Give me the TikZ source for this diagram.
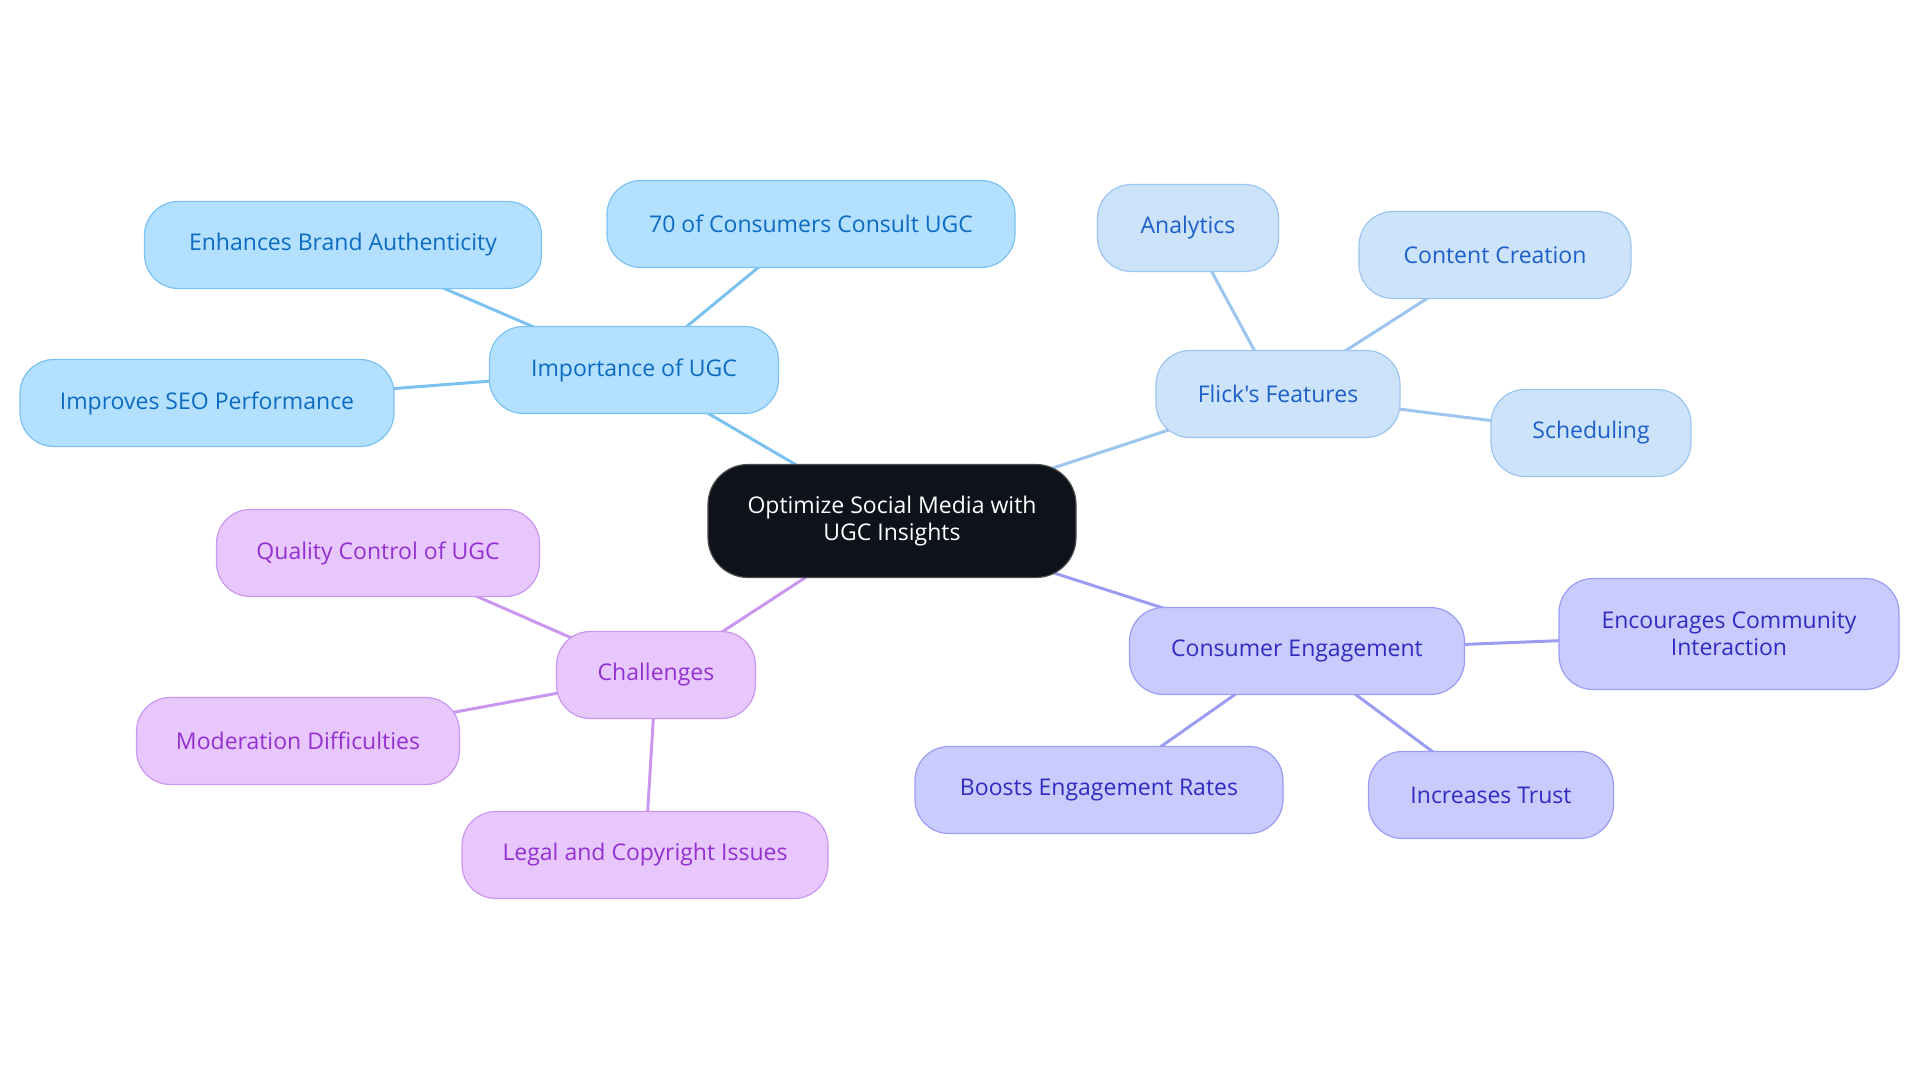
\documentclass[tikz,border=0pt]{standalone}
\usepackage{fontspec}
\setmainfont{Open Sans}[Ligatures=TeXOff]
\usetikzlibrary{backgrounds}

\definecolor{rootfill}{HTML}{0D121B}
\definecolor{impfill}{HTML}{B3E0FF}
\definecolor{impdraw}{HTML}{7CC2F0}
\definecolor{imptext}{HTML}{0B6BC0}
\definecolor{featfill}{HTML}{CCE3FA}
\definecolor{featdraw}{HTML}{9CC5EF}
\definecolor{feattext}{HTML}{1D5FC9}
\definecolor{engfill}{HTML}{C8CBFC}
\definecolor{engdraw}{HTML}{9B9DF3}
\definecolor{engtext}{HTML}{2F2CBF}
\definecolor{chalfill}{HTML}{E8C8FC}
\definecolor{chaldraw}{HTML}{C996F0}
\definecolor{chaltext}{HTML}{9330D0}

\begin{document}
\begin{tikzpicture}[x=1pt, y=-1pt, every node/.style={draw, align=center, rounded corners=34pt, minimum height=87pt, line width=1.2pt, font=\fontsize{23}{27}\selectfont},
    imp/.style={fill=impfill, draw=impdraw, text=imptext},
    feat/.style={fill=featfill, draw=featdraw, text=feattext},
    eng/.style={fill=engfill, draw=engdraw, text=engtext},
    chal/.style={fill=chalfill, draw=chaldraw, text=chaltext},
    implink/.style={draw=impdraw, line width=3pt},
    featlink/.style={draw=featdraw, line width=3pt},
    englink/.style={draw=engdraw, line width=3pt},
    challink/.style={draw=chaldraw, line width=3pt}]
        \useasboundingbox (0,0) rectangle (1920,1083);

        \node[fill=rootfill, draw=black!70, text=white, minimum width=368pt, minimum height=113pt, rounded corners=40pt] (root) at (892,521) {Optimize Social Media with\\UGC Insights};

        \node[imp, minimum width=289pt] (importance) at (634,370) {Importance of UGC};
        \node[imp, minimum width=408pt] (consult) at (811,224) {70 of Consumers Consult UGC};
        \node[imp, minimum width=397pt] (brand) at (343,245) {Enhances Brand Authenticity};
        \node[imp, minimum width=374pt] (seo) at (207,403) {Improves SEO Performance};

        \node[feat, minimum width=244pt] (features) at (1278,394) {Flick's Features};
        \node[feat, minimum width=181pt] (analytics) at (1188,228) {Analytics};
        \node[feat, minimum width=272pt] (content) at (1495,255) {Content Creation};
        \node[feat, minimum width=200pt] (scheduling) at (1591,433) {Scheduling};

        \node[eng, minimum width=335pt] (engagement) at (1297,651) {Consumer Engagement};
        \node[eng, minimum width=340pt, minimum height=111pt] (community) at (1729,634) {Encourages Community\\Interaction};
        \node[eng, minimum width=368pt] (boosts) at (1099,790) {Boosts Engagement Rates};
        \node[eng, minimum width=245pt] (trust) at (1491,795) {Increases Trust};

        \node[chal, minimum width=199pt] (challenges) at (656,675) {Challenges};
        \node[chal, minimum width=323pt] (quality) at (378,553) {Quality Control of UGC};
        \node[chal, minimum width=323pt] (moderation) at (298,741) {Moderation Difficulties};
        \node[chal, minimum width=366pt] (legal) at (645,855) {Legal and Copyright Issues};

        % links run centre to centre, under the boxes
        \begin{pgfonlayer}{background}
        \draw[implink] (root.center) -- (importance.center);
        \draw[implink] (importance.center) -- (consult.center);
        \draw[implink] (importance.center) -- (brand.center);
        \draw[implink] (importance.center) -- (seo.center);
        \draw[featlink] (root.center) -- (features.center);
        \draw[featlink] (features.center) -- (analytics.center);
        \draw[featlink] (features.center) -- (content.center);
        \draw[featlink] (features.center) -- (scheduling.center);
        \draw[englink] (root.center) -- (engagement.center);
        \draw[englink] (engagement.center) -- (community.center);
        \draw[englink] (engagement.center) -- (boosts.center);
        \draw[englink] (engagement.center) -- (trust.center);
        \draw[challink] (root.center) -- (challenges.center);
        \draw[challink] (challenges.center) -- (quality.center);
        \draw[challink] (challenges.center) -- (moderation.center);
        \draw[challink] (challenges.center) -- (legal.center);
        \end{pgfonlayer}
    \end{tikzpicture}
\end{document}
